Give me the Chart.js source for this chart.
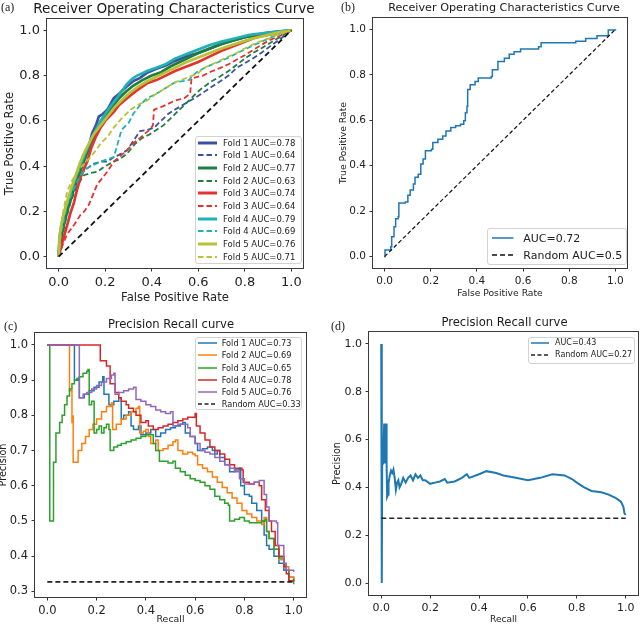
<!DOCTYPE html>
<html><head><meta charset="utf-8">
<script src="https://cdn.jsdelivr.net/npm/chart.js@4.4.0/dist/chart.umd.min.js"></script>
<style>
html,body{margin:0;padding:0;background:#fff;width:640px;height:625px;overflow:hidden;position:relative;font-family:"DejaVu Sans",sans-serif;}
canvas{position:absolute;}
.plabel{position:absolute;font-family:"Liberation Serif","Times New Roman",serif;font-size:12px;color:#222;line-height:1;}
.ptitle{position:absolute;white-space:nowrap;color:#1a1a1a;line-height:1;transform:translate(-50%,-50%);font-family:"DejaVu Sans",sans-serif;font-weight:normal;}
.legend{position:absolute;border:1px solid #d2d2d2;border-radius:3px;background:rgba(255,255,255,0.85);box-sizing:border-box;}
.ltext{position:absolute;white-space:nowrap;color:#222;line-height:1;transform:translateY(-50%);font-family:"DejaVu Sans",sans-serif;}
.lsample{position:absolute;overflow:visible;}
</style></head><body>
<canvas id="cA" width="320" height="310" style="left:0;top:0"></canvas>
<canvas id="cB" width="320" height="310" style="left:320px;top:0"></canvas>
<canvas id="cC" width="326" height="330" style="left:-6px;top:300px"></canvas>
<canvas id="cD" width="320" height="330" style="left:320px;top:300px"></canvas>
<div class="plabel" style="left:1px;top:1px">(a)</div>
<div class="plabel" style="left:341px;top:1px">(b)</div>
<div class="plabel" style="left:4px;top:320px">(c)</div>
<div class="plabel" style="left:331px;top:320px">(d)</div>
<script>
// ---------- shared tick values ----------
const unitTicks = [0, 0.2, 0.4, 0.6, 0.8, 1.0];
const precisionTicksC = [0.3, 0.4, 0.5, 0.6, 0.7, 0.8, 0.9, 1.0];

// ---------- titles ----------
const titleA = 'Receiver Operating Characteristics Curve';
const titleB = 'Receiver Operating Characteristics Curve';
const titleC = 'Precision Recall curve';
const titleD = 'Precision Recall curve';

// ---------- panel (a): ROC curves, 5 folds, two models ----------
const labelsA = ['Fold 1 AUC=0.78','Fold 1 AUC=0.64','Fold 2 AUC=0.77','Fold 2 AUC=0.63','Fold 3 AUC=0.74','Fold 3 AUC=0.64','Fold 4 AUC=0.79','Fold 4 AUC=0.69','Fold 5 AUC=0.76','Fold 5 AUC=0.71'];
const rocA_fold1_solid = [[0,0],[0.004,0.07],[0.012,0.12],[0.025,0.18],[0.04,0.23],[0.06,0.29],[0.08,0.35],[0.1,0.40],[0.123,0.465],[0.133,0.50],[0.144,0.545],[0.16,0.58],[0.173,0.62],[0.19,0.63],[0.21,0.65],[0.237,0.70],[0.26,0.72],[0.29,0.75],[0.323,0.777],[0.35,0.79],[0.38,0.813],[0.42,0.83],[0.46,0.845],[0.5,0.865],[0.55,0.885],[0.6,0.90],[0.65,0.92],[0.7,0.94],[0.75,0.955],[0.8,0.97],[0.85,0.98],[0.9,0.99],[0.95,0.995],[1,1]];
const rocA_fold1_dashed = [[0,0],[0.01,0.08],[0.023,0.17],[0.045,0.23],[0.066,0.29],[0.09,0.35],[0.11,0.38],[0.123,0.39],[0.15,0.41],[0.18,0.42],[0.21,0.42],[0.237,0.44],[0.26,0.45],[0.294,0.47],[0.32,0.51],[0.35,0.555],[0.38,0.56],[0.41,0.57],[0.44,0.60],[0.47,0.63],[0.5,0.65],[0.55,0.68],[0.607,0.715],[0.65,0.745],[0.693,0.774],[0.73,0.80],[0.764,0.833],[0.80,0.855],[0.836,0.877],[0.87,0.90],[0.907,0.928],[0.95,0.96],[1,1]];
const rocA_fold2_solid = [[0,0],[0.005,0.05],[0.02,0.13],[0.04,0.21],[0.06,0.28],[0.08,0.34],[0.1,0.40],[0.12,0.45],[0.14,0.50],[0.16,0.55],[0.18,0.59],[0.2,0.62],[0.23,0.66],[0.26,0.70],[0.29,0.73],[0.32,0.755],[0.36,0.78],[0.4,0.80],[0.44,0.815],[0.48,0.84],[0.52,0.86],[0.56,0.88],[0.6,0.90],[0.65,0.92],[0.7,0.94],[0.75,0.955],[0.8,0.97],[0.86,0.98],[0.92,0.99],[1,1]];
const rocA_fold2_dashed = [[0,0],[0.01,0.06],[0.03,0.16],[0.051,0.24],[0.07,0.29],[0.09,0.33],[0.109,0.36],[0.14,0.37],[0.166,0.375],[0.2,0.40],[0.237,0.42],[0.26,0.43],[0.294,0.455],[0.33,0.50],[0.36,0.525],[0.39,0.54],[0.42,0.56],[0.45,0.58],[0.48,0.61],[0.5,0.63],[0.55,0.68],[0.607,0.737],[0.65,0.77],[0.693,0.796],[0.73,0.82],[0.764,0.847],[0.80,0.875],[0.836,0.90],[0.87,0.92],[0.907,0.943],[0.95,0.97],[1,1]];
const rocA_fold3_solid = [[0,0],[0.01,0.04],[0.02,0.08],[0.037,0.14],[0.05,0.19],[0.066,0.24],[0.08,0.30],[0.094,0.35],[0.11,0.39],[0.123,0.42],[0.14,0.48],[0.16,0.53],[0.18,0.57],[0.2,0.60],[0.237,0.64],[0.26,0.67],[0.294,0.70],[0.33,0.73],[0.38,0.766],[0.42,0.78],[0.46,0.80],[0.5,0.82],[0.55,0.84],[0.6,0.86],[0.65,0.885],[0.7,0.91],[0.75,0.93],[0.8,0.95],[0.85,0.97],[0.9,0.98],[0.95,0.99],[1,1]];
const rocA_fold3_dashed = [[0,0],[0.02,0.06],[0.037,0.10],[0.066,0.14],[0.094,0.185],[0.11,0.20],[0.13,0.23],[0.15,0.28],[0.166,0.32],[0.19,0.35],[0.209,0.375],[0.237,0.42],[0.26,0.44],[0.294,0.47],[0.32,0.50],[0.35,0.525],[0.39,0.56],[0.405,0.58],[0.41,0.65],[0.45,0.665],[0.5,0.69],[0.54,0.70],[0.565,0.72],[0.571,0.788],[0.62,0.80],[0.66,0.82],[0.693,0.833],[0.73,0.85],[0.764,0.87],[0.80,0.89],[0.836,0.913],[0.87,0.935],[0.907,0.957],[0.95,0.975],[1,1]];
const rocA_fold4_solid = [[0,0],[0.003,0.08],[0.01,0.13],[0.02,0.18],[0.04,0.25],[0.06,0.31],[0.08,0.37],[0.1,0.42],[0.12,0.47],[0.14,0.52],[0.16,0.56],[0.18,0.60],[0.2,0.63],[0.22,0.66],[0.25,0.70],[0.27,0.73],[0.294,0.763],[0.315,0.785],[0.337,0.80],[0.36,0.81],[0.38,0.82],[0.42,0.835],[0.46,0.85],[0.5,0.875],[0.55,0.895],[0.6,0.915],[0.65,0.935],[0.7,0.95],[0.76,0.965],[0.82,0.98],[0.9,0.99],[1,1]];
const rocA_fold4_dashed = [[0,0],[0.01,0.10],[0.037,0.23],[0.066,0.30],[0.094,0.36],[0.12,0.39],[0.137,0.40],[0.16,0.41],[0.18,0.42],[0.21,0.43],[0.237,0.44],[0.25,0.485],[0.27,0.56],[0.3,0.59],[0.32,0.63],[0.35,0.67],[0.38,0.70],[0.42,0.72],[0.46,0.745],[0.5,0.77],[0.56,0.78],[0.575,0.80],[0.6,0.82],[0.65,0.845],[0.7,0.865],[0.75,0.89],[0.8,0.916],[0.85,0.94],[0.9,0.963],[0.95,0.985],[1,1]];
const rocA_fold5_solid = [[0,0],[0.005,0.1],[0.015,0.16],[0.03,0.22],[0.05,0.29],[0.07,0.35],[0.09,0.41],[0.11,0.46],[0.13,0.50],[0.15,0.54],[0.18,0.58],[0.21,0.62],[0.24,0.66],[0.27,0.69],[0.3,0.72],[0.34,0.75],[0.38,0.775],[0.42,0.795],[0.46,0.815],[0.5,0.835],[0.55,0.86],[0.6,0.88],[0.65,0.90],[0.7,0.92],[0.76,0.94],[0.82,0.96],[0.88,0.975],[0.94,0.99],[1,1]];
const rocA_fold5_dashed = [[0,0],[0.01,0.12],[0.02,0.2],[0.037,0.29],[0.06,0.34],[0.09,0.39],[0.11,0.41],[0.137,0.44],[0.16,0.47],[0.18,0.50],[0.21,0.53],[0.237,0.57],[0.27,0.61],[0.31,0.65],[0.34,0.67],[0.38,0.69],[0.42,0.72],[0.46,0.745],[0.5,0.77],[0.55,0.79],[0.6,0.81],[0.622,0.833],[0.66,0.85],[0.7,0.87],[0.764,0.90],[0.8,0.92],[0.85,0.945],[0.907,0.965],[0.95,0.985],[1,1]];
const chanceDiagonal = [[0,0],[1,1]];

// ---------- panel (b): single ROC ----------
const labelsB = ['AUC=0.72', 'Random AUC=0.5'];
const rocB = [[0,0],[0.002,0.029],[0.027,0.044],[0.031,0.087],[0.041,0.131],[0.048,0.167],[0.059,0.175],[0.062,0.236],[0.09,0.24],[0.101,0.27],[0.111,0.293],[0.125,0.32],[0.132,0.349],[0.146,0.363],[0.157,0.408],[0.167,0.43],[0.177,0.466],[0.203,0.473],[0.209,0.502],[0.231,0.517],[0.252,0.531],[0.266,0.553],[0.287,0.568],[0.308,0.576],[0.329,0.583],[0.343,0.598],[0.35,0.633],[0.357,0.662],[0.36,0.735],[0.371,0.756],[0.392,0.771],[0.406,0.786],[0.462,0.793],[0.467,0.822],[0.491,0.859],[0.519,0.873],[0.54,0.891],[0.561,0.902],[0.589,0.914],[0.667,0.924],[0.678,0.941],[0.807,0.941],[0.828,0.948],[0.871,0.96],[0.92,0.972],[0.962,0.972],[0.969,0.997],[1,1]];

// ---------- panel (c): precision-recall, 5 folds ----------
const labelsC = ['Fold 1 AUC=0.73','Fold 2 AUC=0.69','Fold 3 AUC=0.65','Fold 4 AUC=0.78','Fold 5 AUC=0.76','Random AUC=0.33'];
const prC_fold1 = [[0,1.0],[0.11,1.0],[0.11,0.90],[0.125,0.905],[0.13,0.91],[0.13,0.85],[0.15,0.86],[0.17,0.87],[0.19,0.88],[0.21,0.895],[0.225,0.91],[0.23,0.86],[0.25,0.83],[0.27,0.84],[0.29,0.85],[0.3,0.79],[0.31,0.80],[0.33,0.81],[0.34,0.77],[0.35,0.76],[0.37,0.77],[0.38,0.745],[0.4,0.75],[0.42,0.76],[0.44,0.74],[0.46,0.75],[0.48,0.76],[0.5,0.765],[0.52,0.77],[0.54,0.775],[0.55,0.78],[0.56,0.75],[0.58,0.74],[0.6,0.72],[0.61,0.70],[0.63,0.705],[0.65,0.71],[0.67,0.70],[0.68,0.69],[0.69,0.70],[0.7,0.68],[0.72,0.66],[0.74,0.64],[0.76,0.645],[0.78,0.65],[0.785,0.60],[0.8,0.575],[0.82,0.57],[0.83,0.55],[0.85,0.53],[0.87,0.50],[0.88,0.46],[0.89,0.43],[0.9,0.42],[0.92,0.40],[0.94,0.38],[0.96,0.36],[0.98,0.34],[1.0,0.33]];
const prC_fold2 = [[0,1.0],[0.09,1.0],[0.09,0.87],[0.1,0.86],[0.1,0.78],[0.105,0.80],[0.105,0.667],[0.12,0.667],[0.125,0.70],[0.14,0.72],[0.155,0.74],[0.17,0.76],[0.185,0.775],[0.2,0.79],[0.22,0.81],[0.24,0.825],[0.26,0.835],[0.265,0.76],[0.28,0.775],[0.3,0.79],[0.32,0.80],[0.34,0.81],[0.36,0.82],[0.37,0.825],[0.375,0.75],[0.39,0.755],[0.4,0.76],[0.41,0.74],[0.42,0.72],[0.44,0.73],[0.45,0.70],[0.47,0.705],[0.49,0.715],[0.51,0.725],[0.52,0.73],[0.53,0.70],[0.55,0.69],[0.57,0.695],[0.59,0.69],[0.6,0.685],[0.61,0.66],[0.63,0.65],[0.65,0.64],[0.67,0.625],[0.69,0.61],[0.71,0.595],[0.73,0.58],[0.75,0.565],[0.77,0.55],[0.79,0.53],[0.81,0.52],[0.83,0.51],[0.85,0.50],[0.87,0.49],[0.88,0.51],[0.89,0.47],[0.9,0.45],[0.92,0.42],[0.94,0.39],[0.96,0.37],[0.98,0.34],[1.0,0.335]];
const prC_fold3 = [[0,1.0],[0.01,1.0],[0.01,0.5],[0.025,0.5],[0.025,0.667],[0.035,0.667],[0.035,0.75],[0.045,0.75],[0.05,0.78],[0.06,0.80],[0.07,0.83],[0.08,0.855],[0.09,0.875],[0.1,0.89],[0.11,0.90],[0.12,0.905],[0.13,0.91],[0.145,0.92],[0.16,0.925],[0.165,0.93],[0.17,0.83],[0.18,0.84],[0.19,0.75],[0.2,0.76],[0.21,0.77],[0.22,0.75],[0.23,0.765],[0.24,0.775],[0.25,0.76],[0.255,0.70],[0.27,0.71],[0.285,0.715],[0.3,0.72],[0.32,0.725],[0.34,0.73],[0.36,0.735],[0.38,0.74],[0.4,0.745],[0.42,0.745],[0.43,0.72],[0.44,0.70],[0.455,0.67],[0.47,0.67],[0.49,0.665],[0.51,0.67],[0.52,0.65],[0.54,0.64],[0.56,0.63],[0.58,0.62],[0.6,0.615],[0.62,0.61],[0.64,0.60],[0.66,0.59],[0.68,0.57],[0.7,0.56],[0.72,0.55],[0.735,0.545],[0.74,0.50],[0.76,0.505],[0.78,0.51],[0.8,0.50],[0.82,0.495],[0.85,0.495],[0.87,0.50],[0.885,0.505],[0.89,0.47],[0.9,0.45],[0.92,0.42],[0.94,0.395],[0.96,0.375],[0.97,0.36],[0.98,0.33],[1.0,0.32]];
const prC_fold4 = [[0,1.0],[0.215,1.0],[0.215,0.955],[0.24,0.94],[0.255,0.89],[0.275,0.865],[0.29,0.85],[0.3,0.84],[0.32,0.83],[0.33,0.82],[0.35,0.81],[0.36,0.80],[0.375,0.80],[0.38,0.78],[0.4,0.785],[0.41,0.77],[0.43,0.76],[0.45,0.765],[0.47,0.77],[0.49,0.775],[0.51,0.78],[0.53,0.785],[0.55,0.79],[0.57,0.795],[0.6,0.805],[0.605,0.77],[0.62,0.75],[0.64,0.73],[0.66,0.71],[0.68,0.70],[0.7,0.69],[0.72,0.675],[0.74,0.66],[0.76,0.65],[0.79,0.645],[0.795,0.61],[0.82,0.605],[0.84,0.61],[0.86,0.60],[0.87,0.56],[0.885,0.53],[0.9,0.50],[0.91,0.47],[0.925,0.43],[0.94,0.40],[0.96,0.37],[0.97,0.35],[0.98,0.33],[1.0,0.335]];
const prC_fold5 = [[0,1.0],[0.13,1.0],[0.13,0.85],[0.145,0.86],[0.16,0.865],[0.18,0.875],[0.2,0.885],[0.22,0.895],[0.24,0.905],[0.26,0.915],[0.27,0.92],[0.275,0.86],[0.29,0.865],[0.31,0.87],[0.33,0.875],[0.35,0.88],[0.36,0.845],[0.38,0.84],[0.4,0.83],[0.42,0.825],[0.44,0.815],[0.46,0.81],[0.48,0.805],[0.5,0.81],[0.51,0.77],[0.53,0.775],[0.55,0.775],[0.57,0.765],[0.58,0.74],[0.6,0.72],[0.62,0.70],[0.64,0.695],[0.66,0.69],[0.68,0.68],[0.7,0.67],[0.72,0.66],[0.74,0.65],[0.76,0.64],[0.78,0.62],[0.8,0.605],[0.82,0.605],[0.84,0.61],[0.86,0.615],[0.875,0.615],[0.88,0.575],[0.89,0.54],[0.9,0.5],[0.93,0.495],[0.935,0.43],[0.95,0.43],[0.96,0.38],[0.97,0.36],[1.0,0.355]];
const randomC = [[0,0.327],[1,0.327]];

// ---------- panel (d): single precision-recall ----------
const labelsD = ['AUC=0.43', 'Random AUC=0.27'];
const prD = [[0,1.0],[0.0015,0],[0.003,0],[0.004,0.5],[0.008,0.5],[0.012,0.667],[0.014,0.5],[0.018,0.6],[0.02,0.667],[0.022,0.5],[0.024,0.36],[0.028,0.37],[0.03,0.42],[0.035,0.45],[0.04,0.47],[0.045,0.46],[0.05,0.475],[0.055,0.44],[0.06,0.39],[0.065,0.42],[0.07,0.43],[0.075,0.40],[0.08,0.41],[0.09,0.44],[0.1,0.42],[0.11,0.44],[0.12,0.45],[0.13,0.43],[0.14,0.455],[0.15,0.44],[0.16,0.45],[0.17,0.43],[0.18,0.43],[0.2,0.415],[0.22,0.42],[0.24,0.425],[0.26,0.435],[0.27,0.42],[0.3,0.425],[0.33,0.44],[0.35,0.455],[0.36,0.44],[0.4,0.455],[0.43,0.468],[0.47,0.46],[0.5,0.45],[0.55,0.44],[0.6,0.43],[0.65,0.44],[0.7,0.455],[0.75,0.45],[0.78,0.435],[0.8,0.42],[0.83,0.40],[0.86,0.385],[0.9,0.38],[0.93,0.37],[0.96,0.355],[0.98,0.34],[0.99,0.32],[0.995,0.29],[1.0,0.285]];
const randomD = [[0,0.271],[1,0.271]];

// ---------- styles ----------
const FONT = '"DejaVu Sans", sans-serif';
const foldColorsA = ['#3d51a3', '#1e7d40', '#e5322f', '#1fb1b6', '#b7c236'];
const tab10 = ['#1f77b4', '#ff7f0e', '#2ca02c', '#d62728', '#9467bd'];

const pts = arr => arr.map(p => ({ x: p[0], y: p[1] }));

const framePlugin = {
  id: 'frame',
  afterDatasetsDraw(chart) {
    const { ctx, chartArea: a } = chart;
    ctx.save();
    ctx.strokeStyle = '#3a3a3a';
    ctx.lineWidth = 1;
    ctx.strokeRect(Math.round(a.left) - 0.5, Math.round(a.top) - 0.5, Math.round(a.right - a.left) + 1, Math.round(a.bottom - a.top) + 1);
    ctx.restore();
  }
};

function axis(o) {
  return {
    type: 'linear', position: o.position, min: o.min, max: o.max,
    afterBuildTicks: s => { s.ticks = o.ticks.map(v => ({ value: v })); },
    afterFit: s => { if (o.position === 'bottom') s.height = o.size; else s.width = o.size; },
    ticks: { autoSkip: false, maxRotation: 0, color: '#222', padding: 3.5,
      font: { family: FONT, size: o.tickSize }, callback: v => Number(v).toFixed(1) },
    grid: { display: true, drawOnChartArea: false, drawTicks: true, tickLength: 3.5, color: '#333' },
    border: { display: false },
    title: { display: true, text: o.title, color: '#222', font: { family: FONT, size: o.titleSize }, padding: o.titlePad }
  };
}

function makeChart(id, o) {
  return new Chart(document.getElementById(id), {
    type: 'line',
    data: { datasets: o.datasets },
    options: {
      responsive: false, animation: false, devicePixelRatio: 1,
      layout: { padding: o.pad },
      elements: { point: { radius: 0 }, line: { tension: 0 } },
      plugins: { legend: { display: false }, tooltip: { enabled: false }, title: { display: false } },
      scales: { x: axis(o.x), y: axis(o.y) }
    },
    plugins: [framePlugin]
  });
}

function ds(data, color, width, dash, order, stepped) {
  return { data: pts(data), borderColor: color, borderWidth: width, borderDash: dash || [],
    fill: false, pointRadius: 0, order: order, stepped: stepped || false };
}

function title(text, cx, cy, size) {
  const t = document.createElement('div');
  t.className = 'ptitle';
  t.textContent = text;
  Object.assign(t.style, { left: cx + 'px', top: cy + 'px', fontSize: size + 'px' });
  document.body.appendChild(t);
}

function legend(g, rows) {
  const box = document.createElement('div');
  box.className = 'legend';
  Object.assign(box.style, { left: g.left + 'px', top: g.top + 'px', width: g.width + 'px', height: g.height + 'px' });
  document.body.appendChild(box);
  rows.forEach((r, i) => {
    const cy = g.rowTop + i * g.rowH;
    const ns = 'http://www.w3.org/2000/svg';
    const svg = document.createElementNS(ns, 'svg');
    svg.setAttribute('class', 'lsample');
    svg.setAttribute('width', g.sampleW); svg.setAttribute('height', 10);
    svg.style.left = g.sampleX + 'px'; svg.style.top = (cy - 5) + 'px';
    const ln = document.createElementNS(ns, 'line');
    ln.setAttribute('x1', 0); ln.setAttribute('x2', g.sampleW); ln.setAttribute('y1', 5); ln.setAttribute('y2', 5);
    ln.setAttribute('stroke', r.color); ln.setAttribute('stroke-width', r.width);
    if (r.dash && r.dash.length) ln.setAttribute('stroke-dasharray', r.dash.join(','));
    svg.appendChild(ln);
    document.body.appendChild(svg);
    const t = document.createElement('div');
    t.className = 'ltext';
    t.textContent = r.label;
    Object.assign(t.style, { left: g.textX + 'px', top: cy + 'px', fontSize: g.fontSize + 'px' });
    document.body.appendChild(t);
  });
}

// ---------- panel (a) ----------
const seriesA = [rocA_fold1_solid, rocA_fold1_dashed, rocA_fold2_solid, rocA_fold2_dashed, rocA_fold3_solid, rocA_fold3_dashed, rocA_fold4_solid, rocA_fold4_dashed, rocA_fold5_solid, rocA_fold5_dashed];
const styleA = seriesA.map((s, i) => ({
  color: foldColorsA[Math.floor(i / 2)],
  width: i % 2 === 0 ? 2.7 : 1.8,
  dash: i % 2 === 0 ? [] : [5.5, 3]
}));
const dsA = seriesA.map((s, i) => ds(s, styleA[i].color, styleA[i].width, styleA[i].dash, -i));
dsA.push(ds(chanceDiagonal, '#111', 1.8, [5.5, 3.5], -20));
makeChart('cA', {
  datasets: dsA,
  pad: { left: 0, right: 17, top: 19, bottom: 0 },
  x: { position: 'bottom', min: -0.05, max: 1.05, ticks: unitTicks, size: 42, tickSize: 13, title: 'False Positive Rate', titleSize: 11.6, titlePad: { top: 0, bottom: 5 } },
  y: { position: 'left', min: -0.05, max: 1.05, ticks: unitTicks, size: 47, tickSize: 13, title: 'True Positive Rate', titleSize: 11.6, titlePad: { top: 3.5, bottom: 0 } }
});
title(titleA, 174, 9, 13.6);
legend({ left: 195, top: 136, width: 107, height: 128, rowTop: 142.7, rowH: 12.67, sampleX: 198, sampleW: 19, textX: 223, fontSize: 8.5 },
  labelsA.map((l, i) => ({ label: l, color: styleA[i].color, width: i % 2 === 0 ? 3 : 2, dash: styleA[i].dash })));

// ---------- panel (b) ----------
makeChart('cB', {
  datasets: [ds(rocB, tab10[0], 1.5, [], 0, true), ds(chanceDiagonal, '#111', 1.2, [4, 2.5], -1)],
  pad: { left: 0, right: 13, top: 18, bottom: 0 },
  x: { position: 'bottom', min: -0.05, max: 1.05, ticks: unitTicks, size: 42, tickSize: 10.5, title: 'False Positive Rate', titleSize: 9.2, titlePad: { top: 0, bottom: 11 } },
  y: { position: 'left', min: -0.05, max: 1.05, ticks: unitTicks, size: 53, tickSize: 10.5, title: 'True Positive Rate', titleSize: 9.2, titlePad: { top: 18.5, bottom: 0 } }
});
title(titleB, 504, 8.3, 11.2);
legend({ left: 487, top: 228, width: 140, height: 37, rowTop: 238.3, rowH: 16.7, sampleX: 492, sampleW: 21.5, textX: 523.3, fontSize: 11 },
  [{ label: labelsB[0], color: tab10[0], width: 1.5, dash: [] }, { label: labelsB[1], color: '#111', width: 1.5, dash: [5, 3] }]);

// ---------- panel (c) ----------
const seriesC = [prC_fold1, prC_fold2, prC_fold3, prC_fold4, prC_fold5];
const dsC = seriesC.map((s, i) => ds(s, tab10[i], 1.5, [], -i, true));
dsC.push(ds(randomC, '#222', 1.6, [5, 3], -10));
makeChart('cC', {
  datasets: dsC,
  pad: { left: 0, right: 14, top: 33, bottom: 0 },
  x: { position: 'bottom', min: -0.05, max: 1.05, ticks: unitTicks, size: 33, tickSize: 11.5, title: 'Recall', titleSize: 9.4, titlePad: { top: 0, bottom: 4.9 } },
  y: { position: 'left', min: 0.284, max: 1.034, ticks: precisionTicksC, size: 41, tickSize: 11.5, title: 'Precision', titleSize: 9.6, titlePad: { top: 4.2, bottom: 0 } }
});
title(titleC, 171, 324.7, 11.6);
legend({ left: 195, top: 337, width: 107, height: 73, rowTop: 343.3, rowH: 12.1, sampleX: 197.5, sampleW: 19, textX: 221.7, fontSize: 8.2 },
  labelsC.map((l, i) => i < 5 ? { label: l, color: tab10[i], width: 1.5, dash: [] } : { label: l, color: '#222', width: 1.6, dash: [4, 2.5] }));

// ---------- panel (d) ----------
makeChart('cD', {
  datasets: [ds(prD, tab10[0], 2, [], 0), ds(randomD, '#222', 1.6, [5, 3], -1)],
  pad: { left: 0, right: 2, top: 32, bottom: 0 },
  x: { position: 'bottom', min: -0.05, max: 1.05, ticks: unitTicks, size: 35, tickSize: 11, title: 'Recall', titleSize: 9, titlePad: { top: 0, bottom: 4.9 } },
  y: { position: 'left', min: -0.05, max: 1.05, ticks: unitTicks, size: 49, tickSize: 11, title: 'Precision', titleSize: 9.6, titlePad: { top: 12.2, bottom: 0 } }
});
title(titleD, 504.5, 322.8, 11.6);
legend({ left: 528, top: 337, width: 107, height: 27, rowTop: 343.3, rowH: 11.7, sampleX: 530.5, sampleW: 18, textX: 555, fontSize: 8 },
  [{ label: labelsD[0], color: tab10[0], width: 1.5, dash: [] }, { label: labelsD[1], color: '#222', width: 1.6, dash: [4, 2.5] }]);
</script>
</body></html>
